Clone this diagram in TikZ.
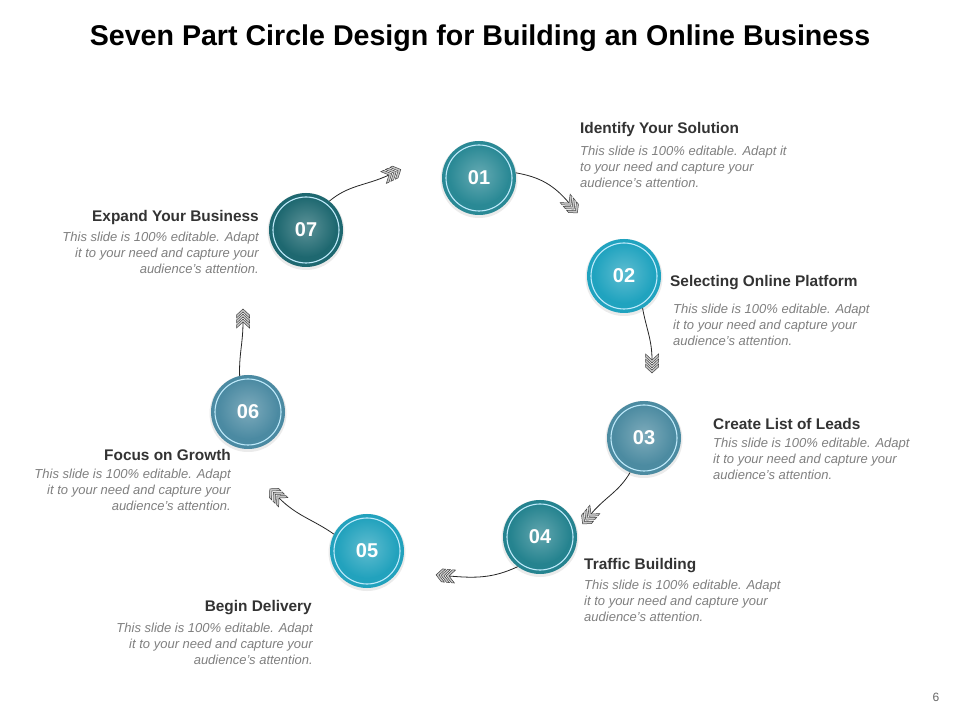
\documentclass[tikz,border=0pt]{standalone}
\usepackage{fontspec}
\setmainfont{Liberation Sans}
\usetikzlibrary{decorations.markings}
\definecolor{cOne}{HTML}{2A8995}
\definecolor{cTwo}{HTML}{20A3BF}
\definecolor{cThree}{HTML}{4C8BA1}
\definecolor{cFour}{HTML}{25838F}
\definecolor{cFive}{HTML}{22A2BD}
\definecolor{cSix}{HTML}{4B8AA2}
\definecolor{cSeven}{HTML}{1E6870}
\definecolor{headc}{HTML}{333333}
\definecolor{descc}{HTML}{808080}
\tikzset{
  chev/.pic={
    \foreach \d in {-6,-1,4}{
      \draw[draw=black!75, fill=black!22, line width=0.5pt]
        (\d+9,0)--(\d+3,6.5)--(\d,6.5)--(\d+6,0)--(\d,-6.5)--(\d+3,-6.5)--cycle;}
  },
  num/.style={circle, minimum size=74pt, inner sep=0pt, text=white,
    font=\fontsize{20}{20}\selectfont\bfseries},
  headtxt/.style={inner sep=0pt, text=headc, font=\fontsize{15.4}{18}\selectfont\bfseries},
  desctxt/.style={inner sep=0pt, text=descc, font=\fontsize{13}{16}\selectfont\itshape},
  conn/.style={draw=black!85, line width=0.8pt, postaction={decorate},
    decoration={markings, mark=at position 1 with {\pic[transform shape]{chev};}}},
}
\newcommand\mybubble[5]{%
  \fill[black!8] (#2,#3-1.5) circle (38.5);
  \fill[#4] (#2,#3) circle (37);
  \shade[inner color=#4!72!white, outer color=#4] (#2+0,#3+3) circle (30);
  \draw[white!75!cyan, line width=1.1pt] (#2,#3) circle (33);
  \node[num] (#1) at (#2,#3) {#5};
}
\begin{document}
\begin{tikzpicture}[x=1pt,y=1pt]
\useasboundingbox (0,0) rectangle (960,720);
\fill[white] (0,0) rectangle (960,720);

\node[font=\fontsize{28.6}{30}\selectfont\bfseries, text=black] (title) at (480,682)
  {Seven Part Circle Design for Building an Online Business};
\node[font=\fontsize{12}{12}\selectfont, text=black!60] (pnum) at (936,23) {6};

\mybubble{c1}{479}{542}{cOne}{01}
\mybubble{c2}{624}{444}{cTwo}{02}
\mybubble{c3}{644}{282}{cThree}{03}
\mybubble{c4}{540}{183}{cFour}{04}
\mybubble{c5}{367}{169}{cFive}{05}
\mybubble{c6}{248}{308}{cSix}{06}
\mybubble{c7}{306}{490}{cSeven}{07}

\coordinate (e1) at (569,517);
\coordinate (e2) at (652,360);
\coordinate (e3) at (591,206);
\coordinate (e4) at (449,144);
\coordinate (e5) at (279,222);
\coordinate (e6) at (243,398);
\coordinate (e7) at (389,545);

\draw[conn] (c1.8) to[out=-10,in=130] (e1);
\draw[conn] (c2.-60) to[out=-80,in=90] (e2);
\draw[conn] (c3.-112) to[out=-120,in=50] (e3);
\draw[conn] (c4.-127) to[out=-155,in=-5] (e4);
\draw[conn] (c5.153) to[out=145,in=-45] (e5);
\draw[conn] (c6.103) to[out=92,in=-90] (e6);
\draw[conn] (c7.51) to[out=40,in=-155] (e7);

\node[headtxt, anchor=west] (h1) at (580,590) {Identify Your Solution};
\node[desctxt, anchor=north west, align=left] (d1) at (580,574)
  {This slide is 100\% editable. Adapt it\\to your need and capture your\\audience’s attention.};

\node[headtxt, anchor=west] (h2) at (670,437) {Selecting Online Platform};
\node[desctxt, anchor=north west, align=left] (d2) at (673,416)
  {This slide is 100\% editable. Adapt\\it to your need and capture your\\audience’s attention.};

\node[headtxt, anchor=west] (h3) at (713,296) {Create List of Leads};
\node[desctxt, anchor=north west, align=left] (d3) at (713,282)
  {This slide is 100\% editable. Adapt\\it to your need and capture your\\audience’s attention.};

\node[headtxt, anchor=west] (h4) at (584,154) {Traffic Building};
\node[desctxt, anchor=north west, align=left] (d4) at (584,140)
  {This slide is 100\% editable. Adapt\\it to your need and capture your\\audience’s attention.};

\node[headtxt, anchor=east] (h5) at (312,112) {Begin Delivery};
\node[desctxt, anchor=north east, align=right] (d5) at (313,97)
  {This slide is 100\% editable. Adapt\\it to your need and capture your\\audience’s attention.};

\node[headtxt, anchor=east] (h6) at (231,265) {Focus on Growth};
\node[desctxt, anchor=north east, align=right] (d6) at (231,251)
  {This slide is 100\% editable. Adapt\\it to your need and capture your\\audience’s attention.};

\node[headtxt, anchor=east] (h7) at (259,502) {Expand Your Business};
\node[desctxt, anchor=north east, align=right] (d7) at (259,488)
  {This slide is 100\% editable. Adapt\\it to your need and capture your\\audience’s attention.};
\end{tikzpicture}
\end{document}
